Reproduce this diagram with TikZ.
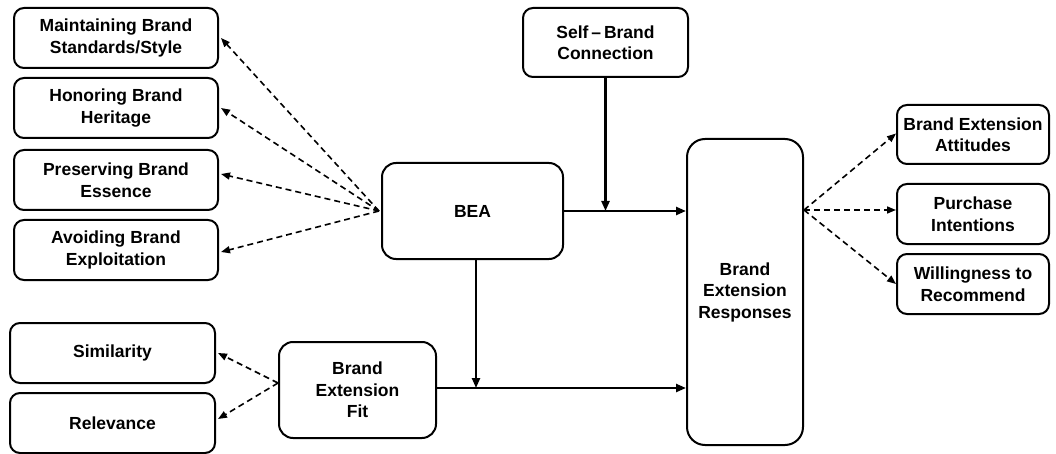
\documentclass[tikz,border=0pt]{standalone}
\usepackage{fontspec}
\setmainfont{Liberation Sans}
\usetikzlibrary{arrows.meta}
\tikzset{
  box/.style={draw, line width=2pt, rounded corners=10pt, align=center, inner sep=0pt,
    font=\fontsize{17.5}{21.5}\selectfont\bfseries},
  solidarrow/.style={line width=2.3pt, -{Triangle[length=10pt,width=8pt]}},
  dasharrow/.style={line width=1.6pt, dash pattern=on 6pt off 4pt, -{Triangle[length=9pt,width=7pt]}},
}
\begin{document}
\begin{tikzpicture}[x=1pt,y=-1pt]
\useasboundingbox (0,0) rectangle (1056,454);
% left indicator boxes
\node[box, minimum width=204pt, minimum height=60pt] (m1) at (116,38) {Maintaining Brand\\Standards/Style};
\node[box, minimum width=204pt, minimum height=60pt] (m2) at (116,108) {Honoring Brand\\Heritage};
\node[box, minimum width=204pt, minimum height=60pt] (m3) at (116,180) {Preserving Brand\\Essence};
\node[box, minimum width=204pt, minimum height=60pt] (m4) at (116,250) {Avoiding Brand\\Exploitation};
% core
\node[box, minimum width=181pt, minimum height=96pt, rounded corners=14pt] (bea) at (472.5,211) {BEA};
\node[box, minimum width=165pt, minimum height=69pt] (sb) at (605.5,42.5) {Self\,–\,Brand\\Connection};
\node[box, minimum width=116pt, minimum height=306pt, rounded corners=18pt] (ber) at (745,292) {Brand\\Extension\\Responses};
\node[box, minimum width=157pt, minimum height=96pt, rounded corners=14pt] (bef) at (357.5,390) {Brand\\Extension\\Fit};
% lower left
\node[box, minimum width=205pt, minimum height=60pt] (sim) at (112.5,353) {Similarity};
\node[box, minimum width=205pt, minimum height=60pt] (rel) at (112.5,423) {Relevance};
% right outcomes
\node[box, minimum width=152pt, minimum height=59pt] (att) at (973,134.5) {Brand Extension\\Attitudes};
\node[box, minimum width=152pt, minimum height=60pt] (pur) at (973,214) {Purchase\\Intentions};
\node[box, minimum width=152pt, minimum height=60pt] (wil) at (973,284) {Willingness to\\Recommend};
% origins of dashed fans
\coordinate (beaO) at ([xshift=-2pt]bea.west);
\coordinate (befO) at ([yshift=7pt]bef.west);
\coordinate (berO) at ([yshift=82pt]ber.east);
% dashed arrows
\draw[dasharrow] (beaO) -- ([xshift=2pt]m1.east);
\draw[dasharrow] (beaO) -- ([xshift=2pt]m2.east);
\draw[dasharrow] (beaO) -- ([xshift=2pt,yshift=6pt]m3.east);
\draw[dasharrow] (beaO) -- ([xshift=2pt,yshift=-2pt]m4.east);
\draw[dasharrow] (befO) -- ([xshift=2pt]sim.east);
\draw[dasharrow] (befO) -- ([xshift=2pt,yshift=4pt]rel.east);
\draw[dasharrow] (berO) -- ([yshift=1pt]att.west);
\draw[dasharrow] (berO) -- (berO -| pur.west);
\draw[dasharrow] (berO) -- (wil.west);
% solid arrows
\coordinate (bej) at (bea.east -| sb.south);
\draw[solidarrow] (bea.east) -- (bea.east -| ber.west);
\draw[solidarrow] (sb.south) -- (bej);
\coordinate (befE) at ([yshift=2pt]bef.east);
\coordinate (bfj) at ([xshift=3.5pt]bea.south |- befE);
\draw[solidarrow] (befE) -- (befE -| ber.west);
\draw[solidarrow] ([xshift=3.5pt]bea.south) -- (bfj);
\end{tikzpicture}
\end{document}
